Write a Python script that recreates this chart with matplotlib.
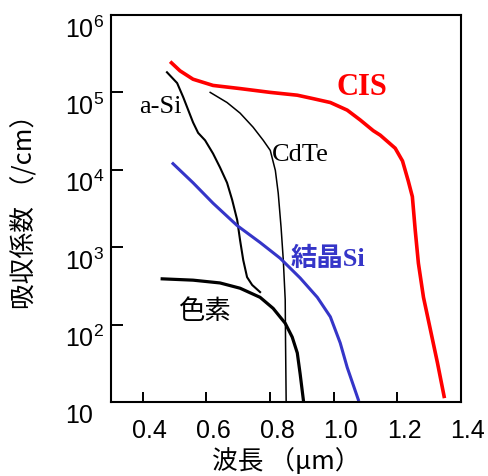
import numpy as np
import matplotlib
matplotlib.use("Agg")
import matplotlib.pyplot as plt
from matplotlib.transforms import ScaledTranslation

plt.rcParams['font.family'] = ['Liberation Sans', 'Noto Sans CJK JP']
plt.rcParams['mathtext.fontset'] = 'custom'
plt.rcParams['mathtext.rm'] = 'Liberation Sans'

# 吸収係数データ (波長 µm, 吸収係数 /cm)
cis_wl = [0.486, 0.517, 0.558, 0.621, 0.706, 0.801, 0.886, 0.936, 0.990,
          1.043, 1.084, 1.125, 1.147, 1.194, 1.217, 1.235, 1.248, 1.257,
          1.267, 1.283, 1.305, 1.327, 1.349]
cis_a = [2.5e5, 1.9e5, 1.48e5, 1.23e5, 1.12e5, 1.0e5, 9.2e4, 8.3e4, 7.4e4,
         5.9e4, 4.4e4, 3.2e4, 2.8e4, 1.9e4, 1.3e4, 7.2e3, 4.5e3, 1.66e3,
         620, 225, 85, 32, 11.2]

asi_wl = [0.476, 0.508, 0.527, 0.543, 0.558, 0.574, 0.596, 0.621, 0.643,
          0.665, 0.681, 0.697, 0.706, 0.716, 0.728, 0.744, 0.769]
asi_a = [1.82e5, 1.32e5, 8.7e4, 5.9e4, 4.1e4, 3.0e4, 2.4e4, 1.62e4, 1.07e4,
         6.8e3, 4.1e3, 2.24e3, 1.23e3, 680, 410, 325, 263]

cdte_wl = [0.612, 0.665, 0.706, 0.747, 0.779, 0.801, 0.817, 0.826, 0.835,
           0.842, 0.848, 0.849, 0.851]
cdte_a = [1.0e5, 7.4e4, 5.4e4, 3.55e4, 2.4e4, 1.78e4, 9.8e3, 5.0e3, 1.8e3,
          680, 210, 63, 10]

dye_wl = [0.461, 0.558, 0.643, 0.706, 0.769, 0.810, 0.848, 0.870, 0.886,
          0.895, 0.905]
dye_a = [390, 375, 345, 295, 225, 162, 104, 69, 43, 23, 10.7]

csi_wl = [0.495, 0.558, 0.621, 0.697, 0.769, 0.832, 0.895, 0.949, 0.990,
          1.021, 1.043, 1.078]
csi_a = [1.2e4, 6.8e3, 3.7e3, 1.9e3, 1.15e3, 720, 400, 225, 126, 58, 28, 10.7]

x_ticks = [0.4, 0.6, 0.8, 1.0, 1.2, 1.4]
x_ticklabels = ['0.4', '0.6', '0.8', '1.0', '1.2', '1.4']
y_ticks = [10, 1e2, 1e3, 1e4, 1e5, 1e6]
y_ticklabels = ['10', '$10^2$', '$10^3$', '$10^4$', '$10^5$', '$10^6$']

fig = plt.figure(figsize=(4.88, 4.76), dpi=100)
ax = fig.add_axes([0.2275, 0.1555, 0.7165, 0.813])

blue = '#3535c8'
ax.plot(cis_wl, cis_a, color='#ff0000', lw=2.6, solid_capstyle='butt')
ax.plot(asi_wl, asi_a, color='black', lw=1.5)
ax.plot(cdte_wl, cdte_a, color='black', lw=1.1)
ax.plot(dye_wl, dye_a, color='black', lw=2.3)
ax.plot(csi_wl, csi_a, color=blue, lw=2.2)

ax.set_yscale('log')
ax.set_xlim(0.3, 1.4)
ax.set_ylim(10, 1e6)
ax.minorticks_off()
ax.set_xticks(x_ticks)
ax.set_xticklabels(x_ticklabels)
ax.set_yticks(y_ticks)
ax.set_yticklabels(y_ticklabels, ha='left')

ax.tick_params(axis='y', direction='in', length=8.5, width=1.4, pad=33, labelsize=18)
ax.tick_params(axis='x', direction='in', length=7, width=1.4, pad=12, labelsize=18)
for lab in ax.get_yticklabels():
    lab.set_transform(lab.get_transform() + ScaledTranslation(0, -12 / 100, fig.dpi_scale_trans))
for lab in ax.get_xticklabels():
    lab.set_transform(lab.get_transform() + ScaledTranslation(7 / 100, 0, fig.dpi_scale_trans))

for s in ax.spines.values():
    s.set_linewidth(1.5)
    s.set_color('black')

serif = ['Liberation Serif', 'Noto Sans CJK JP']
ax.text(1.09, 1.16e5, 'CIS', color='#ff0000', fontsize=22, fontweight='bold',
        family=serif, ha='center', va='center')
ax.text(0.454, 6.4e4, 'a-Si', fontsize=19, family=serif, ha='center', va='center')
ax.text(0.895, 1.54e4, 'CdTe', fontsize=19, family=serif, ha='center', va='center')
ax.text(0.983, 7.0e2, '結晶Si', color=blue, fontsize=19, fontweight='bold',
        family=serif, ha='center', va='center')
ax.text(0.593, 1.49e2, '色素', fontsize=19, family=['Noto Sans CJK JP'], ha='center', va='center')

fig.text(0.051, 0.569, '吸収係数 （/cm）', rotation=90, fontsize=18.5,
         family=['Noto Sans CJK JP'], ha='center', va='center')
fig.text(0.586, 0.03, '波長 （μm）', fontsize=18.5,
         family=['Noto Sans CJK JP', 'Liberation Sans'], ha='center', va='center')

fig.savefig('out.png', dpi=100)
